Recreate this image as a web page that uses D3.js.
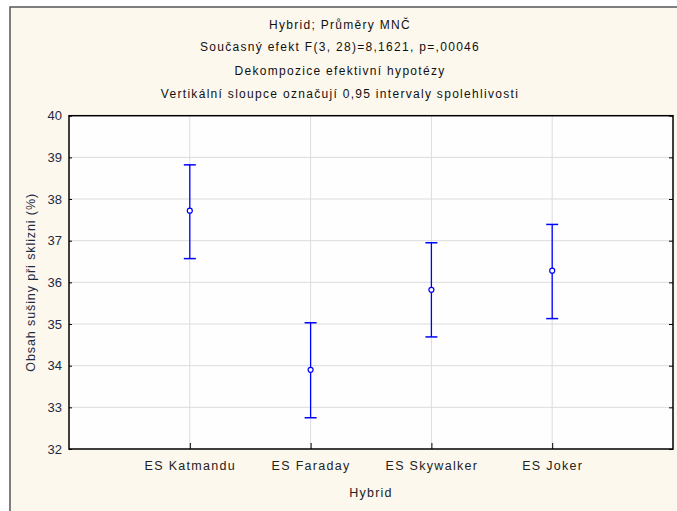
<!DOCTYPE html>
<html><head><meta charset="utf-8">
<script src="https://cdn.jsdelivr.net/npm/d3@7"></script>
<style>
html,body{margin:0;padding:0;background:#fff;}
svg{display:block;}
text{font-family:"Liberation Sans",Arial,sans-serif;}
</style></head>
<body>
<script>
const categories = ["ES Katmandu", "ES Faraday", "ES Skywalker", "ES Joker"];
const means = [37.72, 33.90, 35.82, 36.28];
const lowers = [36.57, 32.75, 34.69, 35.13];
const uppers = [38.82, 35.03, 36.95, 37.39];
const yTicks = [32, 33, 34, 35, 36, 37, 38, 39, 40];
const titleLines = [
  "Hybrid; Průměry MNČ",
  "Současný efekt F(3, 28)=8,1621, p=,00046",
  "Dekompozice efektivní hypotézy",
  "Vertikální sloupce označují 0,95 intervaly spolehlivosti"
];
const xTitle = "Hybrid";
const yTitle = "Obsah sušiny při sklizni (%)";

const W = 677, H = 511;
const svg = d3.select("body").append("svg").attr("width", W).attr("height", H);

// outer panel
svg.append("rect").attr("x", 0).attr("y", 0).attr("width", W).attr("height", H).attr("fill", "#fff");
svg.append("rect").attr("x", 10).attr("y", 7).attr("width", W + 10).attr("height", H + 10)
  .attr("fill", "#fdf8ee").attr("stroke", "#555").attr("stroke-width", 1.5);

const plot = {l: 69, r: 673, t: 115.7, b: 449};
const x = d3.scalePoint().domain(["", ...categories, " "]).range([plot.l, plot.r]);
const y = d3.scaleLinear().domain([32, 40]).range([plot.b, plot.t]);

svg.append("rect").attr("x", plot.l).attr("y", plot.t).attr("width", plot.r - plot.l).attr("height", plot.b - plot.t)
  .attr("fill", "#fefefe");

// gridlines
svg.append("g").selectAll("line").data(yTicks.slice(1, -1)).join("line")
  .attr("x1", plot.l).attr("x2", plot.r).attr("y1", d => y(d)).attr("y2", d => y(d))
  .attr("stroke", "#dcdcdc").attr("stroke-width", 1);
svg.append("g").selectAll("line").data(categories).join("line")
  .attr("x1", d => x(d)).attr("x2", d => x(d)).attr("y1", plot.t).attr("y2", plot.b)
  .attr("stroke", "#dcdcdc").attr("stroke-width", 1);

// axes
const yAxisL = d3.axisLeft(y).tickValues(yTicks).tickSize(-3).tickPadding(9).tickFormat(d3.format("d"));
const gyl = svg.append("g").attr("transform", `translate(${plot.l},0)`).call(yAxisL);
gyl.select(".domain").remove();
gyl.selectAll(".tick line").attr("stroke", "#000");
gyl.selectAll("text").attr("font-size", 13).attr("fill", "#1d2a44").attr("x", -7);

const yAxisR = d3.axisRight(y).tickValues(yTicks).tickSize(-4).tickFormat("");
const gyr = svg.append("g").attr("transform", `translate(${plot.r},0)`).call(yAxisR);
gyr.select(".domain").remove();
gyr.selectAll(".tick line").attr("stroke", "#000");

const xAxis = d3.axisBottom(x).tickValues(categories).tickSize(-6).tickPadding(12);
const gx = svg.append("g").attr("transform", `translate(0,${plot.b})`).call(xAxis);
gx.select(".domain").remove();
gx.selectAll(".tick line").attr("stroke", "#000");
gx.selectAll("text").attr("font-size", 12.5).attr("fill", "#222").attr("letter-spacing", "1.3px");

svg.append("rect").attr("x", plot.l).attr("y", plot.t).attr("width", plot.r - plot.l).attr("height", plot.b - plot.t)
  .attr("fill", "none").attr("stroke", "#000").attr("stroke-width", 1.5);

// error bars
const g = svg.append("g");
const data = categories.map((c, i) => ({c, m: means[i], lo: lowers[i], hi: uppers[i]}));
g.selectAll(".v").data(data).join("line")
  .attr("x1", d => x(d.c)).attr("x2", d => x(d.c)).attr("y1", d => y(d.hi)).attr("y2", d => y(d.lo))
  .attr("stroke", "#0000ff").attr("stroke-width", 1.3);
["hi", "lo"].forEach(k => {
  g.selectAll(".c" + k).data(data).join("line")
    .attr("x1", d => x(d.c) - 6).attr("x2", d => x(d.c) + 6).attr("y1", d => y(d[k])).attr("y2", d => y(d[k]))
    .attr("stroke", "#0000ff").attr("stroke-width", 1.5);
});
g.selectAll("circle").data(data).join("circle")
  .attr("cx", d => x(d.c)).attr("cy", d => y(d.m)).attr("r", 2.5)
  .attr("fill", "#fff").attr("stroke", "#0000ff").attr("stroke-width", 1.2);

// titles
const titleY = [29, 51, 75, 98];
svg.append("g").selectAll("text").data(titleLines).join("text")
  .attr("x", 340).attr("y", (d, i) => titleY[i]).attr("text-anchor", "middle")
  .attr("font-size", 12).attr("letter-spacing", "1.3px").attr("fill", "#111").text(d => d);

svg.append("text").attr("x", 371).attr("y", 497).attr("text-anchor", "middle")
  .attr("font-size", 12.5).attr("fill", "#222").attr("letter-spacing", "1.2px").text(xTitle);
svg.append("text").attr("transform", `translate(35,${(plot.t + plot.b) / 2}) rotate(-90)`)
  .attr("text-anchor", "middle").attr("font-size", 12.5).attr("letter-spacing", "0.9px").attr("fill", "#1d2a44").text(yTitle);
</script>
</body></html>
